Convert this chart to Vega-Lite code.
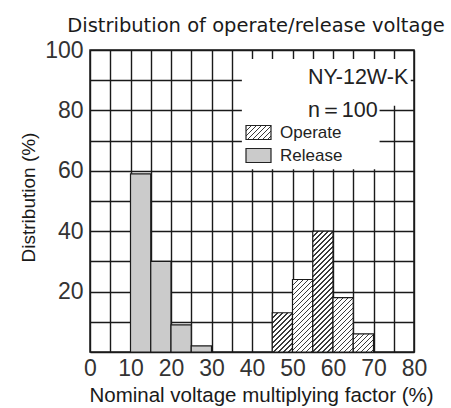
{
  "$schema": "https://vega.github.io/schema/vega-lite/v6.json",
  "width": 324,
  "height": 302,
  "autosize": {"type": "none"},
  "padding": {"left": 90, "top": 50, "right": 37, "bottom": 56},
  "background": "white",
  "params": [
    {"name": "hatch", "value": [
      {"offset":0,"color":"#3a3a3a"},{"offset":0.006875,"color":"#3a3a3a"},{"offset":0.006875,"color":"#ffffff"},{"offset":0.03125,"color":"#ffffff"},
      {"offset":0.03125,"color":"#3a3a3a"},{"offset":0.038125,"color":"#3a3a3a"},{"offset":0.038125,"color":"#ffffff"},{"offset":0.0625,"color":"#ffffff"},
      {"offset":0.0625,"color":"#3a3a3a"},{"offset":0.069375,"color":"#3a3a3a"},{"offset":0.069375,"color":"#ffffff"},{"offset":0.09375,"color":"#ffffff"},
      {"offset":0.09375,"color":"#3a3a3a"},{"offset":0.100625,"color":"#3a3a3a"},{"offset":0.100625,"color":"#ffffff"},{"offset":0.125,"color":"#ffffff"},
      {"offset":0.125,"color":"#3a3a3a"},{"offset":0.131875,"color":"#3a3a3a"},{"offset":0.131875,"color":"#ffffff"},{"offset":0.15625,"color":"#ffffff"},
      {"offset":0.15625,"color":"#3a3a3a"},{"offset":0.163125,"color":"#3a3a3a"},{"offset":0.163125,"color":"#ffffff"},{"offset":0.1875,"color":"#ffffff"},
      {"offset":0.1875,"color":"#3a3a3a"},{"offset":0.194375,"color":"#3a3a3a"},{"offset":0.194375,"color":"#ffffff"},{"offset":0.21875,"color":"#ffffff"},
      {"offset":0.21875,"color":"#3a3a3a"},{"offset":0.225625,"color":"#3a3a3a"},{"offset":0.225625,"color":"#ffffff"},{"offset":0.25,"color":"#ffffff"},
      {"offset":0.25,"color":"#3a3a3a"},{"offset":0.256875,"color":"#3a3a3a"},{"offset":0.256875,"color":"#ffffff"},{"offset":0.28125,"color":"#ffffff"},
      {"offset":0.28125,"color":"#3a3a3a"},{"offset":0.288125,"color":"#3a3a3a"},{"offset":0.288125,"color":"#ffffff"},{"offset":0.3125,"color":"#ffffff"},
      {"offset":0.3125,"color":"#3a3a3a"},{"offset":0.319375,"color":"#3a3a3a"},{"offset":0.319375,"color":"#ffffff"},{"offset":0.34375,"color":"#ffffff"},
      {"offset":0.34375,"color":"#3a3a3a"},{"offset":0.350625,"color":"#3a3a3a"},{"offset":0.350625,"color":"#ffffff"},{"offset":0.375,"color":"#ffffff"},
      {"offset":0.375,"color":"#3a3a3a"},{"offset":0.381875,"color":"#3a3a3a"},{"offset":0.381875,"color":"#ffffff"},{"offset":0.40625,"color":"#ffffff"},
      {"offset":0.40625,"color":"#3a3a3a"},{"offset":0.413125,"color":"#3a3a3a"},{"offset":0.413125,"color":"#ffffff"},{"offset":0.4375,"color":"#ffffff"},
      {"offset":0.4375,"color":"#3a3a3a"},{"offset":0.444375,"color":"#3a3a3a"},{"offset":0.444375,"color":"#ffffff"},{"offset":0.46875,"color":"#ffffff"},
      {"offset":0.46875,"color":"#3a3a3a"},{"offset":0.475625,"color":"#3a3a3a"},{"offset":0.475625,"color":"#ffffff"},{"offset":0.5,"color":"#ffffff"},
      {"offset":0.5,"color":"#3a3a3a"},{"offset":0.506875,"color":"#3a3a3a"},{"offset":0.506875,"color":"#ffffff"},{"offset":0.53125,"color":"#ffffff"},
      {"offset":0.53125,"color":"#3a3a3a"},{"offset":0.538125,"color":"#3a3a3a"},{"offset":0.538125,"color":"#ffffff"},{"offset":0.5625,"color":"#ffffff"},
      {"offset":0.5625,"color":"#3a3a3a"},{"offset":0.569375,"color":"#3a3a3a"},{"offset":0.569375,"color":"#ffffff"},{"offset":0.59375,"color":"#ffffff"},
      {"offset":0.59375,"color":"#3a3a3a"},{"offset":0.600625,"color":"#3a3a3a"},{"offset":0.600625,"color":"#ffffff"},{"offset":0.625,"color":"#ffffff"},
      {"offset":0.625,"color":"#3a3a3a"},{"offset":0.631875,"color":"#3a3a3a"},{"offset":0.631875,"color":"#ffffff"},{"offset":0.65625,"color":"#ffffff"},
      {"offset":0.65625,"color":"#3a3a3a"},{"offset":0.663125,"color":"#3a3a3a"},{"offset":0.663125,"color":"#ffffff"},{"offset":0.6875,"color":"#ffffff"},
      {"offset":0.6875,"color":"#3a3a3a"},{"offset":0.694375,"color":"#3a3a3a"},{"offset":0.694375,"color":"#ffffff"},{"offset":0.71875,"color":"#ffffff"},
      {"offset":0.71875,"color":"#3a3a3a"},{"offset":0.725625,"color":"#3a3a3a"},{"offset":0.725625,"color":"#ffffff"},{"offset":0.75,"color":"#ffffff"},
      {"offset":0.75,"color":"#3a3a3a"},{"offset":0.756875,"color":"#3a3a3a"},{"offset":0.756875,"color":"#ffffff"},{"offset":0.78125,"color":"#ffffff"},
      {"offset":0.78125,"color":"#3a3a3a"},{"offset":0.788125,"color":"#3a3a3a"},{"offset":0.788125,"color":"#ffffff"},{"offset":0.8125,"color":"#ffffff"},
      {"offset":0.8125,"color":"#3a3a3a"},{"offset":0.819375,"color":"#3a3a3a"},{"offset":0.819375,"color":"#ffffff"},{"offset":0.84375,"color":"#ffffff"},
      {"offset":0.84375,"color":"#3a3a3a"},{"offset":0.850625,"color":"#3a3a3a"},{"offset":0.850625,"color":"#ffffff"},{"offset":0.875,"color":"#ffffff"},
      {"offset":0.875,"color":"#3a3a3a"},{"offset":0.881875,"color":"#3a3a3a"},{"offset":0.881875,"color":"#ffffff"},{"offset":0.90625,"color":"#ffffff"},
      {"offset":0.90625,"color":"#3a3a3a"},{"offset":0.913125,"color":"#3a3a3a"},{"offset":0.913125,"color":"#ffffff"},{"offset":0.9375,"color":"#ffffff"},
      {"offset":0.9375,"color":"#3a3a3a"},{"offset":0.944375,"color":"#3a3a3a"},{"offset":0.944375,"color":"#ffffff"},{"offset":0.96875,"color":"#ffffff"},
      {"offset":0.96875,"color":"#3a3a3a"},{"offset":0.975625,"color":"#3a3a3a"},{"offset":0.975625,"color":"#ffffff"},{"offset":1,"color":"#ffffff"}
    ]}
  ],
  "title": {
    "text": "Distribution of operate/release voltage",
    "anchor": "middle",
    "dx": 4,
    "offset": 3,
    "font": "DejaVu Sans",
    "fontSize": 19.5,
    "fontWeight": "normal",
    "color": "#1a1a1a"
  },
  "data": {"values": [
    {"type": "Release", "lo": 10, "hi": 15, "pct": 59},
    {"type": "Release", "lo": 15, "hi": 20, "pct": 30},
    {"type": "Release", "lo": 20, "hi": 25, "pct": 9},
    {"type": "Release", "lo": 25, "hi": 30, "pct": 2},
    {"type": "Operate", "lo": 45, "hi": 50, "pct": 13},
    {"type": "Operate", "lo": 50, "hi": 55, "pct": 24},
    {"type": "Operate", "lo": 55, "hi": 60, "pct": 40},
    {"type": "Operate", "lo": 60, "hi": 65, "pct": 18},
    {"type": "Operate", "lo": 65, "hi": 70, "pct": 6}
  ]},
  "config": {
    "view": {"stroke": "#1a1a1a", "strokeWidth": 1.5},
    "axis": {
      "grid": true,
      "gridColor": "#1a1a1a",
      "gridWidth": 1.4,
      "gridOpacity": 1,
      "ticks": false,
      "domain": false,
      "labelFont": "Liberation Sans",
      "labelFontSize": 23,
      "labelColor": "#333",
      "labelFlush": false,
      "labelOverlap": false,
      "titleFont": "Liberation Sans",
      "titleFontWeight": "normal",
      "titleColor": "#1a1a1a"
    },
    "axisX": {
      "labelPadding": 5,
      "titleFontSize": 20.5,
      "titlePadding": 5,
      "titleX": 171
    },
    "axisY": {
      "labelPadding": 7,
      "titleFontSize": 19,
      "titlePadding": 6,
      "titleY": 147
    }
  },
  "layer": [
    {
      "transform": [{"filter": "datum.type === 'Release'"}],
      "mark": {"type": "bar", "stroke": "#1a1a1a", "strokeWidth": 1.2},
      "encoding": {
        "x": {
          "field": "lo", "type": "quantitative",
          "scale": {"domain": [0, 80], "nice": false, "zero": false},
          "axis": {
            "values": [0,5,10,15,20,25,30,35,40,45,50,55,60,65,70,75,80],
            "labelExpr": "datum.value % 10 === 0 ? datum.label : ''",
            "title": "Nominal voltage multiplying factor (%)"
          }
        },
        "x2": {"field": "hi"},
        "y": {
          "field": "pct", "type": "quantitative",
          "scale": {"domain": [0, 100], "nice": false},
          "axis": {
            "values": [0,10,20,30,40,50,60,70,80,90,100],
            "labelExpr": "datum.value % 20 === 0 && datum.value > 0 ? datum.label : ''",
            "title": "Distribution (%)"
          }
        },
        "y2": {"datum": 0},
        "fill": {
          "field": "type", "type": "nominal",
          "scale": {
            "domain": ["Operate", "Release"],
            "range": [{"expr": "{gradient:'linear', x1:0, y1:0, x2:4.872, y2:2.728, stops: hatch}"}, "#cbcbcb"]
          },
          "legend": {
            "orient": "none",
            "legendX": 155,
            "legendY": 69,
            "title": null,
            "padding": 0,
            "labelFont": "Liberation Sans",
            "labelFontSize": 17,
            "labelColor": "#222",
            "labelOffset": 8,
            "rowPadding": -4,
            "symbolType": "M-1,-0.56H1V0.56H-1Z",
            "symbolSize": 625,
            "symbolStrokeColor": "#222",
            "symbolStrokeWidth": 1.2,
            "symbolOpacity": 1
          }
        }
      }
    },
    {
      "transform": [{"filter": "datum.type === 'Operate'"}],
      "mark": {"type": "bar", "stroke": "#1a1a1a", "strokeWidth": 1.2},
      "encoding": {
        "x": {
          "field": "lo", "type": "quantitative",
          "axis": {
            "values": [0,5,10,15,20,25,30,35,40,45,50,55,60,65,70,75,80],
            "labelExpr": "datum.value % 10 === 0 ? datum.label : ''",
            "title": "Nominal voltage multiplying factor (%)"
          }
        },
        "x2": {"field": "hi"},
        "y": {
          "field": "pct", "type": "quantitative",
          "axis": {
            "values": [0,10,20,30,40,50,60,70,80,90,100],
            "labelExpr": "datum.value % 20 === 0 && datum.value > 0 ? datum.label : ''",
            "title": "Distribution (%)"
          }
        },
        "y2": {"datum": 0},
        "fill": {"value": {"expr": "{gradient:'linear', x1:0, y1:0, x2: 160*(width/16)/(pow(width/16,2)+pow(datum.pct*height/100,2)), y2: 160*(datum.pct*height/100)/(pow(width/16,2)+pow(datum.pct*height/100,2)), stops: hatch}"}}
      }
    },
    {
      "data": {"values": [{}]},
      "mark": {"type": "rect", "fill": "white"},
      "encoding": {
        "x": {"datum": 37.5, "type": "quantitative", "axis": {"values": [0,5,10,15,20,25,30,35,40,45,50,55,60,65,70,75,80], "labelExpr": "datum.value % 10 === 0 ? datum.label : ''", "title": "Nominal voltage multiplying factor (%)"}},
        "x2": {"datum": 79.2},
        "y": {"datum": 97, "type": "quantitative", "axis": {"values": [0,10,20,30,40,50,60,70,80,90,100], "labelExpr": "datum.value % 20 === 0 && datum.value > 0 ? datum.label : ''", "title": "Distribution (%)"}},
        "y2": {"datum": 81.5}
      }
    },
    {
      "data": {"values": [{}]},
      "mark": {"type": "rect", "fill": "white"},
      "encoding": {
        "x": {"datum": 37.5, "type": "quantitative", "axis": {"values": [0,5,10,15,20,25,30,35,40,45,50,55,60,65,70,75,80], "labelExpr": "datum.value % 10 === 0 ? datum.label : ''", "title": "Nominal voltage multiplying factor (%)"}},
        "x2": {"datum": 71.5},
        "y": {"datum": 82, "type": "quantitative", "axis": {"values": [0,10,20,30,40,50,60,70,80,90,100], "labelExpr": "datum.value % 20 === 0 && datum.value > 0 ? datum.label : ''", "title": "Distribution (%)"}},
        "y2": {"datum": 60.5}
      }
    },
    {
      "data": {"values": [{}]},
      "mark": {"type": "text", "align": "left", "baseline": "alphabetic", "font": "Liberation Sans", "fontSize": 21.5, "color": "#222"},
      "encoding": {
        "x": {"datum": 53.8, "type": "quantitative", "axis": {"values": [0,5,10,15,20,25,30,35,40,45,50,55,60,65,70,75,80], "labelExpr": "datum.value % 10 === 0 ? datum.label : ''", "title": "Nominal voltage multiplying factor (%)"}},
        "y": {"datum": 88.7, "type": "quantitative", "axis": {"values": [0,10,20,30,40,50,60,70,80,90,100], "labelExpr": "datum.value % 20 === 0 && datum.value > 0 ? datum.label : ''", "title": "Distribution (%)"}},
        "text": {"value": "NY-12W-K"}
      }
    },
    {
      "data": {"values": [{}]},
      "mark": {"type": "text", "align": "left", "baseline": "alphabetic", "font": "Liberation Sans", "fontSize": 21.5, "color": "#222"},
      "encoding": {
        "x": {"datum": 53.8, "type": "quantitative", "axis": {"values": [0,5,10,15,20,25,30,35,40,45,50,55,60,65,70,75,80], "labelExpr": "datum.value % 10 === 0 ? datum.label : ''", "title": "Nominal voltage multiplying factor (%)"}},
        "y": {"datum": 77.8, "type": "quantitative", "axis": {"values": [0,10,20,30,40,50,60,70,80,90,100], "labelExpr": "datum.value % 20 === 0 && datum.value > 0 ? datum.label : ''", "title": "Distribution (%)"}},
        "text": {"value": "n＝100"}
      }
    }
  ]
}
